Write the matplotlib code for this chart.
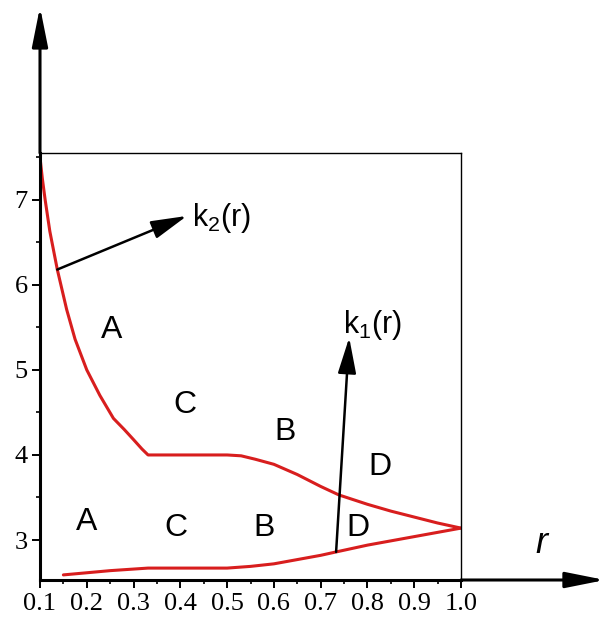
import matplotlib
matplotlib.use("Agg")
import matplotlib.pyplot as plt
from matplotlib.ticker import MultipleLocator

# Upper boundary k2(r)
r_upper = [0.10, 0.105, 0.111, 0.121, 0.137, 0.157, 0.175, 0.20, 0.228, 0.257, 0.28, 0.30, 0.318, 0.331,
           0.40, 0.50, 0.53, 0.56, 0.60, 0.65, 0.70, 0.739, 0.80, 0.85, 0.90, 0.95, 1.00]
k_upper = [7.50, 7.25, 7.00, 6.63, 6.18, 5.71, 5.36, 5.00, 4.70, 4.43, 4.30, 4.18, 4.07, 4.00,
           4.00, 4.00, 3.99, 3.95, 3.89, 3.77, 3.63, 3.53, 3.42, 3.34, 3.27, 3.20, 3.14]

# Lower boundary k1(r)
r_lower = [0.15, 0.25, 0.331, 0.40, 0.50, 0.55, 0.60, 0.65, 0.70, 0.733, 0.80, 0.85, 0.90, 0.95, 1.00]
k_lower = [2.59, 2.64, 2.67, 2.67, 2.67, 2.69, 2.72, 2.77, 2.82, 2.86, 2.94, 2.99, 3.04, 3.09, 3.14]

# Region labels (text, r, k)
region_labels = [("A", 0.254, 5.47), ("C", 0.41, 4.59), ("B", 0.624, 4.27), ("D", 0.827, 3.86),
                 ("A", 0.20, 3.21), ("C", 0.39, 3.14), ("B", 0.58, 3.14), ("D", 0.78, 3.14)]

x_ticks = [0.1, 0.2, 0.3, 0.4, 0.5, 0.6, 0.7, 0.8, 0.9, 1.0]
y_ticks = [3, 4, 5, 6, 7]

fig = plt.figure(figsize=(6.05, 6.2), dpi=100)
ax = fig.add_axes([40 / 605, 40 / 620, 421 / 605, 427 / 620])
ax.set_xlim(0.1, 1.0)
ax.set_ylim(2.53, 7.55)

ax.plot(r_upper, k_upper, color="#d81e1e", lw=2.2, solid_capstyle="round", solid_joinstyle="round")
ax.plot(r_lower, k_lower, color="#d81e1e", lw=2.2, solid_capstyle="round", solid_joinstyle="round")

for txt, rx, ky in region_labels:
    ax.text(rx, ky, txt, fontsize=23, family="Liberation Sans", ha="center", va="center")

arrow_kw = dict(arrowstyle="-|>,head_length=1.1,head_width=0.28", color="black",
                lw=1.8, mutation_scale=20, shrinkA=0, shrinkB=0)
ax.annotate("", xy=(0.414, 6.81), xytext=(0.137, 6.18), arrowprops=arrow_kw)
ax.annotate("", xy=(0.761, 5.38), xytext=(0.733, 2.86), arrowprops=arrow_kw)
ax.text(0.425, 6.78, r"k$_{\mathregular{2}}$(r)", fontsize=22, family="Liberation Sans",
        ha="left", va="center")
ax.text(0.81, 5.53, r"k$_{\mathregular{1}}$(r)", fontsize=22, family="Liberation Sans",
        ha="center", va="center")

# Frame and extended axes with arrowheads
for side in ("top", "right"):
    ax.spines[side].set_linewidth(1.0)
for side in ("left", "bottom"):
    ax.spines[side].set_linewidth(2.2)

axis_arrow = dict(arrowstyle="-|>,head_length=1.2,head_width=0.24", color="black",
                  lw=2.2, mutation_scale=20, shrinkA=0, shrinkB=0)
ax.annotate("", xy=(0, 1.342), xytext=(0, 1.0), xycoords="axes fraction",
            textcoords="axes fraction", arrowprops=axis_arrow, annotation_clip=False)
ax.annotate("", xy=(1.342, 0), xytext=(1.0, 0), xycoords="axes fraction",
            textcoords="axes fraction", arrowprops=axis_arrow, annotation_clip=False)
ax.text(1.19, 0.045, "r", transform=ax.transAxes, fontsize=26, style="italic",
        family="Liberation Sans", ha="center", va="bottom")

ax.set_xticks(x_ticks)
ax.set_xticklabels([f"{t:.1f}" for t in x_ticks])
ax.set_yticks(y_ticks)
ax.set_yticklabels([str(t) for t in y_ticks])
ax.xaxis.set_minor_locator(MultipleLocator(0.05))
ax.yaxis.set_minor_locator(MultipleLocator(0.5))
ax.tick_params(which="major", direction="out", length=6, width=1.4, labelsize=19, pad=3)
ax.tick_params(which="minor", direction="out", length=3, width=1.2)
for lab in ax.get_xticklabels() + ax.get_yticklabels():
    lab.set_family("Liberation Serif")

fig.savefig("out.png", dpi=100)
